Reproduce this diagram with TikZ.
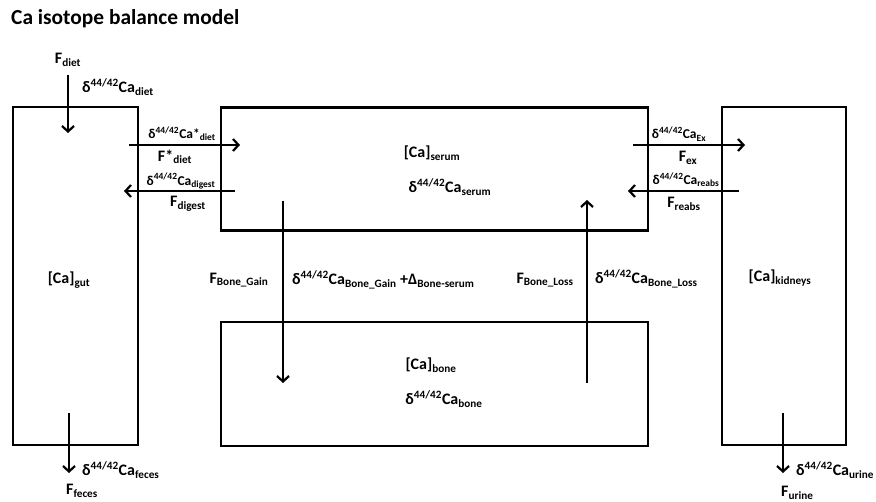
\documentclass[tikz,border=0pt]{standalone}
\usepackage{fontspec}
\setmainfont{Carlito}
\usetikzlibrary{arrows.meta}
\newcommand\isoCa[1]{δ\textsuperscript{44/42}Ca\textsubscript{#1}}
\begin{document}
\begin{tikzpicture}[x=1pt,y=-1pt,
  box/.style={draw,line width=2.4pt,inner sep=0pt},
  flow/.style={line width=2.2pt,-{Straight Barb[length=5.5pt,width=12pt,line width=2.2pt]}},
  lbl/.style={font=\fontsize{16}{18}\selectfont\bfseries,inner sep=0pt},
  sml/.style={font=\fontsize{13.5}{15}\selectfont\bfseries,inner sep=0pt}]
\useasboundingbox (0,0) rectangle (876,502);

% title
\node[anchor=west,inner sep=0pt,font=\fontsize{21.4}{24}\selectfont\bfseries] (title) at (11,19) {Ca isotope balance model};

% boxes
\node[box,minimum width=125pt,minimum height=338pt] (gut) at (75.5,276) {};
\node[box,minimum width=427pt,minimum height=123pt] (serum) at (434.5,169) {};
\node[box,minimum width=427pt,minimum height=124pt] (bone) at (434.5,384) {};
\node[box,minimum width=124pt,minimum height=338pt] (kid) at (784,276) {};

% box labels
\node[lbl] (gutCa) at (69,280) {[Ca]\textsubscript{gut}};
\node[lbl] (serumCa) at (432,153) {[Ca]\textsubscript{serum}};
\node[lbl] (serumD) at (450,187) {\isoCa{serum}};
\node[lbl] (boneCa) at (431,365) {[Ca]\textsubscript{bone}};
\node[lbl] (boneD) at (444,399) {\isoCa{bone}};
\node[lbl] (kidCa) at (780,278) {[Ca]\textsubscript{kidneys}};

% arrow end points
\coordinate (dietA) at (68,75);   \coordinate (dietB) at (68,133);
\coordinate (fecA) at (69,413);   \coordinate (fecB) at (69,473);
\coordinate (urA) at (783,413);   \coordinate (urB) at (783,473);
\coordinate (inA) at (129,145);   \coordinate (inB) at (240,145);
\coordinate (digA) at (235,191);  \coordinate (digB) at (124,191);
\coordinate (exA) at (633,145);   \coordinate (exB) at (745,145);
\coordinate (reA) at (739,191);   \coordinate (reB) at (628,191);
\coordinate (gainA) at (283,201); \coordinate (gainB) at (283,383);
\coordinate (lossA) at (587,383); \coordinate (lossB) at (587,200);

\draw[flow] (dietA) -- (dietB);
\draw[flow] (fecA) -- (fecB);
\draw[flow] (urA) -- (urB);
\draw[flow] (inA) -- (inB);
\draw[flow] (digA) -- (digB);
\draw[flow] (exA) -- (exB);
\draw[flow] (reA) -- (reB);
\draw[flow] (gainA) -- (gainB);
\draw[flow] (lossA) -- (lossB);

% flux labels
\node[lbl] (Fdiet) at (68,60) {F\textsubscript{diet}};
\node[lbl,anchor=west] (ddiet) at (82,87) {\isoCa{diet}};
\node[sml] (dstar) at (182,134) {δ\textsuperscript{44/42}Ca*\textsubscript{diet}};
\node[lbl] (Fstar) at (175,157) {F*\textsubscript{diet}};
\node[sml] (ddig) at (181,181) {\isoCa{digest}};
\node[lbl] (Fdig) at (188,204) {F\textsubscript{digest}};
\node[sml] (dEx) at (679,134) {\isoCa{Ex}};
\node[lbl] (Fex) at (688,158) {F\textsubscript{ex}};
\node[sml] (dre) at (686,180) {\isoCa{reabs}};
\node[lbl] (Fre) at (684,204) {F\textsubscript{reabs}};
\node[lbl] (Fgain) at (239,280) {F\textsubscript{Bone\_Gain}};
\node[lbl,anchor=west] (dgain) at (292,280) {\isoCa{Bone\_Gain} +Δ\textsubscript{Bone-serum}};
\node[lbl] (Floss) at (545,280) {F\textsubscript{Bone\_Loss}};
\node[lbl,anchor=west] (dloss) at (595,279) {\isoCa{Bone\_Loss}};
\node[lbl,anchor=west] (dfec) at (82,470) {\isoCa{feces}};
\node[lbl,anchor=west] (Ffec) at (66,491) {F\textsubscript{feces}};
\node[lbl,anchor=west] (dur) at (796,470) {\isoCa{urine}};
\node[lbl,anchor=west] (Fur) at (781,493) {F\textsubscript{urine}};
\end{tikzpicture}
\end{document}
